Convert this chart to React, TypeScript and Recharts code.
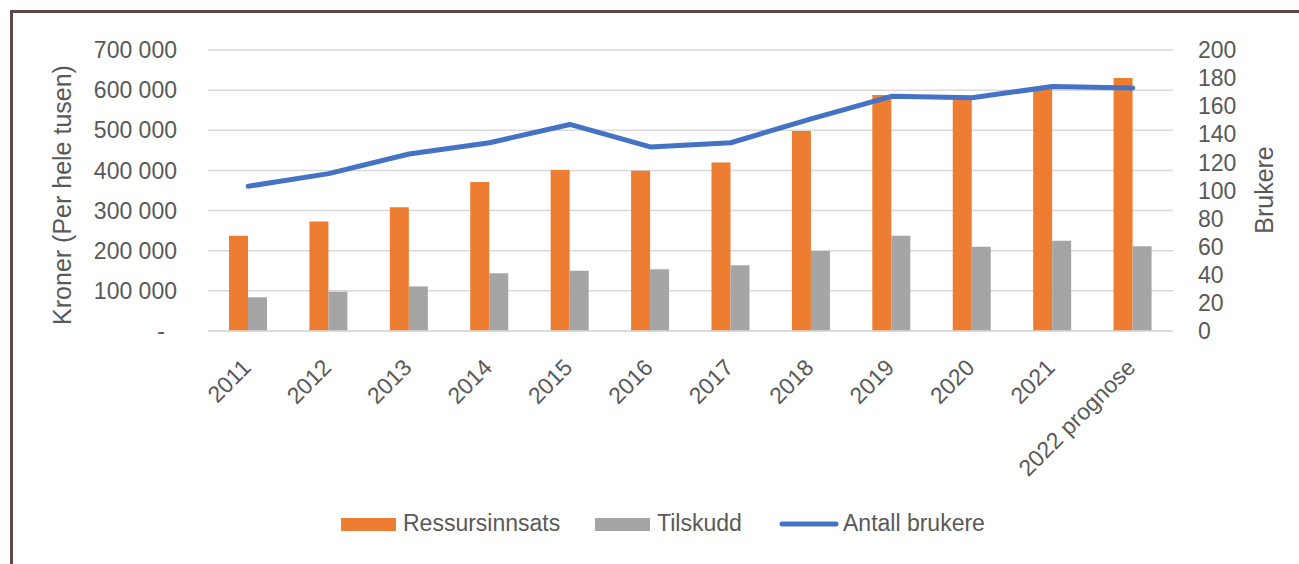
import {
  ComposedChart,
  Bar,
  Line,
  XAxis,
  YAxis,
  CartesianGrid,
} from "recharts"

const years = [
  "2011",
  "2012",
  "2013",
  "2014",
  "2015",
  "2016",
  "2017",
  "2018",
  "2019",
  "2020",
  "2021",
  "2022 prognose",
]
const ressursinnsats = [
  237000, 273000, 308000, 371000, 401000, 399000, 420000, 498000, 588000,
  576000, 606000, 630000,
]
const tilskudd = [
  84000, 98000, 111000, 144000, 150000, 154000, 164000, 199000, 237000,
  210000, 225000, 211000,
]
const brukere = [103, 112, 126, 134, 147, 131, 134, 151, 167, 166, 174, 173]

const kronerTicks = [0, 100000, 200000, 300000, 400000, 500000, 600000, 700000]
const brukerTicks = [0, 20, 40, 60, 80, 100, 120, 140, 160, 180, 200]

const data = years.map((year, i) => ({
  year,
  ressursinnsats: ressursinnsats[i],
  tilskudd: tilskudd[i],
  brukere: brukere[i],
}))

const FONT = "'Liberation Sans', Arial, sans-serif"
const TEXT = "#595959"
const ORANGE = "#ED7D31"
const GRAY = "#A5A5A5"
const BLUE = "#4472C4"
const GRID = "#D9D9D9"

const fmtKroner = (v: number) =>
  v === 0 ? "-" : `${Math.floor(v / 1000)} ${String(v % 1000).padStart(3, "0")}`

const LeftTick = ({ x, y, payload }: any) => (
  <text
    x={payload.value === 0 ? x - 12 : x}
    y={y}
    dy="0.355em"
    textAnchor="end"
    fontSize={23}
    fontFamily={FONT}
    fill={TEXT}
  >
    {fmtKroner(payload.value)}
  </text>
)

const RightTick = ({ x, y, payload }: any) => (
  <text
    x={x}
    y={y}
    dy="0.355em"
    textAnchor="start"
    fontSize={23}
    fontFamily={FONT}
    fill={TEXT}
  >
    {payload.value}
  </text>
)

const YearTick = ({ x, y, payload }: any) => (
  <text
    transform={`translate(${x + 4},${y + 32}) rotate(-45)`}
    textAnchor="end"
    fontSize={23}
    fontFamily={FONT}
    fill={TEXT}
  >
    {payload.value}
  </text>
)

const ChartLegend = () => (
  <svg
    width={1299}
    height={564}
    style={{ position: "absolute", left: 0, top: 0, pointerEvents: "none" }}
  >
    <g fontSize={23} fontFamily={FONT} fill={TEXT}>
      <rect x={341} y={518} width={55} height={13} fill={ORANGE} />
      <text x={403} y={531}>Ressursinnsats</text>
      <rect x={595} y={518} width={55} height={13} fill={GRAY} />
      <text x={657} y={531}>Tilskudd</text>
      <line
        x1={782}
        y1={524}
        x2={836}
        y2={524}
        stroke={BLUE}
        strokeWidth={5}
        strokeLinecap="round"
      />
      <text x={843} y={531}>Antall brukere</text>
    </g>
  </svg>
)

export default function App() {
  return (
    <div
      style={{
        position: "absolute",
        left: 0,
        top: 0,
        width: 1299,
        height: 564,
        background: "#ffffff",
        overflow: "hidden",
      }}
    >
      <div
        style={{
          position: "absolute",
          left: 10,
          top: 10,
          width: 1289,
          height: 554,
          boxSizing: "border-box",
          borderLeft: "3px solid #5b4a42",
          borderTop: "3px solid #5b4a42",
        }}
      />
      <ComposedChart
        width={1299}
        height={564}
        data={data}
        margin={{ top: 50, right: 0, bottom: 0, left: 0 }}
        barGap={0}
        style={{ position: "absolute", left: 0, top: 0 }}
      >
        <CartesianGrid
          yAxisId="kroner"
          vertical={false}
          stroke={GRID}
          strokeWidth={1.5}
        />
        <XAxis
          dataKey="year"
          height={233}
          interval={0}
          axisLine={{ stroke: GRID, strokeWidth: 1.5 }}
          tickLine={false}
          tickSize={6}
          tickMargin={0}
          tick={<YearTick />}
        />
        <YAxis
          yAxisId="kroner"
          orientation="left"
          width={208}
          domain={[0, 700000]}
          ticks={kronerTicks}
          axisLine={false}
          tickLine={false}
          tickSize={6}
          tickMargin={25}
          tick={<LeftTick />}
          label={{
            value: "Kroner (Per hele tusen)",
            angle: -90,
            position: "insideLeft",
            content: () => (
              <text
                transform="translate(71,195) rotate(-90)"
                textAnchor="middle"
                fontSize={25}
                fontFamily={FONT}
                fill={TEXT}
              >
                Kroner (Per hele tusen)
              </text>
            ),
          }}
        />
        <YAxis
          yAxisId="brukere"
          orientation="right"
          width={126}
          domain={[0, 200]}
          ticks={brukerTicks}
          axisLine={false}
          tickLine={false}
          tickSize={6}
          tickMargin={19}
          tick={<RightTick />}
          label={{
            value: "Brukere",
            content: () => (
              <text
                transform="translate(1273,190) rotate(-90)"
                textAnchor="middle"
                fontSize={25}
                fontFamily={FONT}
                fill={TEXT}
              >
                Brukere
              </text>
            ),
          }}
        />
        <Bar
          yAxisId="kroner"
          dataKey="ressursinnsats"
          fill={ORANGE}
          barSize={19}
          isAnimationActive={false}
        />
        <Bar
          yAxisId="kroner"
          dataKey="tilskudd"
          fill={GRAY}
          barSize={19}
          isAnimationActive={false}
        />
        <Line
          yAxisId="brukere"
          dataKey="brukere"
          type="linear"
          stroke={BLUE}
          strokeWidth={5}
          strokeLinecap="round"
          strokeLinejoin="round"
          dot={false}
          activeDot={false}
          isAnimationActive={false}
        />
      </ComposedChart>
      <ChartLegend />
    </div>
  )
}
